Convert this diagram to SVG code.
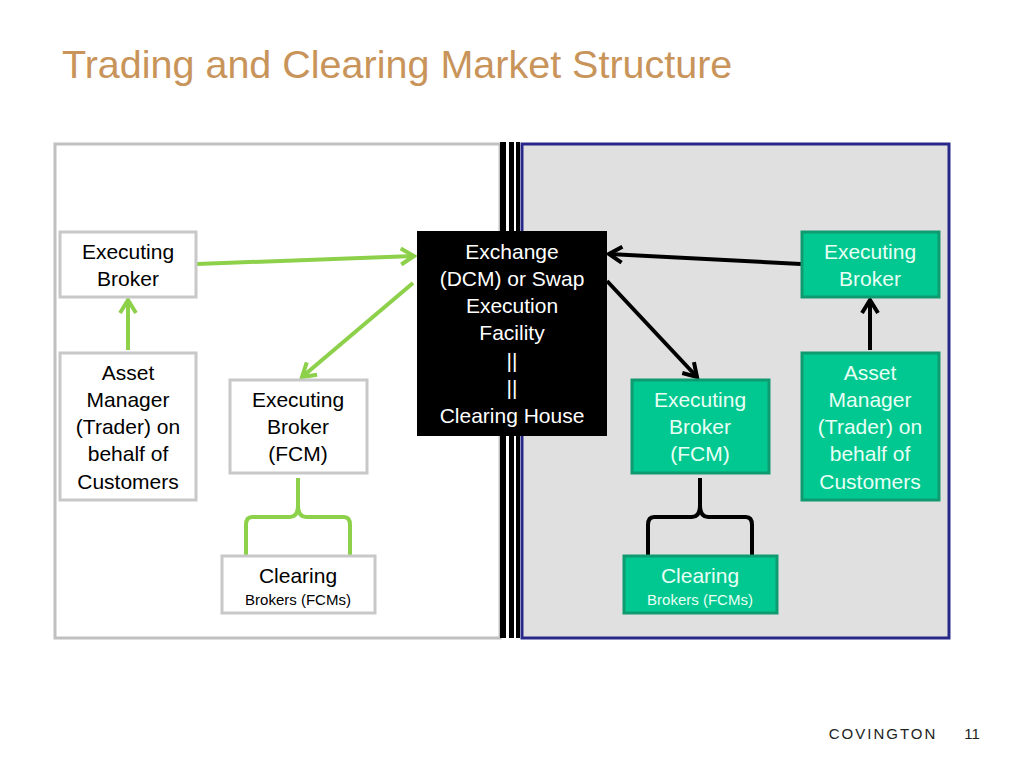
<svg xmlns="http://www.w3.org/2000/svg" width="1024" height="768" viewBox="0 0 1024 768">
<defs>
<style>
text{font-family:"Liberation Sans",Arial,sans-serif;text-anchor:middle}
.wn rect{fill:#fff;stroke:#c8c8c8;stroke-width:3}
.wn text{fill:#000;font-size:21px}
.gn rect{fill:#00c890;stroke:#109a70;stroke-width:3}
.gn text{fill:#e8fff5;font-size:21px}
.sm{font-size:15px!important}
.ga{stroke:#8dd04a;stroke-width:4;fill:none}
.ba{stroke:#000;stroke-width:4;fill:none}
</style>
<marker id="mga" viewBox="0 0 20 20" refX="17" refY="10" markerWidth="20" markerHeight="20" orient="auto" markerUnits="userSpaceOnUse"><path d="M4,2 L17,10 L4,18" fill="none" stroke="#8dd04a" stroke-width="4"/></marker>
<marker id="mba" viewBox="0 0 20 20" refX="17" refY="10" markerWidth="20" markerHeight="20" orient="auto" markerUnits="userSpaceOnUse"><path d="M4,2 L17,10 L4,18" fill="none" stroke="#000" stroke-width="4"/></marker>
</defs>
<rect width="1024" height="768" fill="#fff"/>
<text x="62" y="78" style="text-anchor:start;font-size:39.5px;fill:#c8945a">Trading and Clearing Market Structure</text>
<rect x="55" y="144" width="445" height="494" fill="#fff" stroke="#c0c0c0" stroke-width="3"/>
<rect x="522" y="144" width="427" height="494" fill="#e0e0e0" stroke="#28288a" stroke-width="3"/>
<g fill="#000"><rect x="500" y="142" width="6" height="496"/><rect x="509" y="142" width="5" height="496"/><rect x="516" y="142" width="4" height="496"/></g>
<g id="connectors">
<path class="ga" d="M197,264 L414,256" marker-end="url(#mga)"/>
<path class="ga" d="M413,283 L302,377" marker-end="url(#mga)"/>
<path class="ga" d="M128,350 L128,300" marker-end="url(#mga)"/>
<path class="ba" d="M801,264 L609,254" marker-end="url(#mba)"/>
<path class="ba" d="M607,281 L697,377" marker-end="url(#mba)"/>
<path class="ba" d="M870,350 L870,300" marker-end="url(#mba)"/>
<path class="ga" d="M298,478 L298,505 Q298,517 290,517 L252,517 Q246,517 246,525 L246,555 M298,505 Q298,517 306,517 L344,517 Q350,517 350,525 L350,555"/>
<path class="ba" d="M700,478 L700,505 Q700,517 692,517 L654,517 Q648,517 648,525 L648,555 M700,505 Q700,517 708,517 L746,517 Q752,517 752,525 L752,555"/>
</g>
<g id="exchange"><rect x="417" y="231" width="190" height="205" fill="#000"/>
<g fill="#fff" font-size="21"><text x="512" y="259">Exchange</text><text x="512" y="286">(DCM) or Swap</text><text x="512" y="313">Execution</text><text x="512" y="340">Facility</text><text x="512" y="368">||</text><text x="512" y="395">||</text><text x="512" y="423">Clearing House</text></g></g>
<g id="eb-left" class="wn"><rect x="60" y="232" width="136" height="65"/><text x="128" y="259">Executing</text><text x="128" y="286">Broker</text></g>
<g id="am-left" class="wn"><rect x="60" y="353" width="136" height="147"/><text x="128" y="380">Asset</text><text x="128" y="407">Manager</text><text x="128" y="434">(Trader) on</text><text x="128" y="461">behalf of</text><text x="128" y="489">Customers</text></g>
<g id="fcm-left" class="wn"><rect x="230" y="380" width="137" height="93"/><text x="298" y="407">Executing</text><text x="298" y="434">Broker</text><text x="298" y="461">(FCM)</text></g>
<g id="cb-left" class="wn"><rect x="222" y="556" width="153" height="57"/><text x="298" y="583">Clearing</text><text class="sm" x="298" y="605">Brokers (FCMs)</text></g>
<g id="eb-right" class="gn"><rect x="802" y="232" width="137" height="65"/><text x="870" y="259">Executing</text><text x="870" y="286">Broker</text></g>
<g id="am-right" class="gn"><rect x="802" y="353" width="137" height="147"/><text x="870" y="380">Asset</text><text x="870" y="407">Manager</text><text x="870" y="434">(Trader) on</text><text x="870" y="461">behalf of</text><text x="870" y="489">Customers</text></g>
<g id="fcm-right" class="gn"><rect x="632" y="380" width="137" height="93"/><text x="700" y="407">Executing</text><text x="700" y="434">Broker</text><text x="700" y="461">(FCM)</text></g>
<g id="cb-right" class="gn"><rect x="624" y="556" width="153" height="57"/><text x="700" y="583">Clearing</text><text class="sm" x="700" y="605">Brokers (FCMs)</text></g>
<text x="883" y="739" style="font-size:15px;letter-spacing:2px;fill:#222">COVINGTON</text>
<text x="972" y="739" style="font-size:15px;fill:#222">11</text>
</svg>
